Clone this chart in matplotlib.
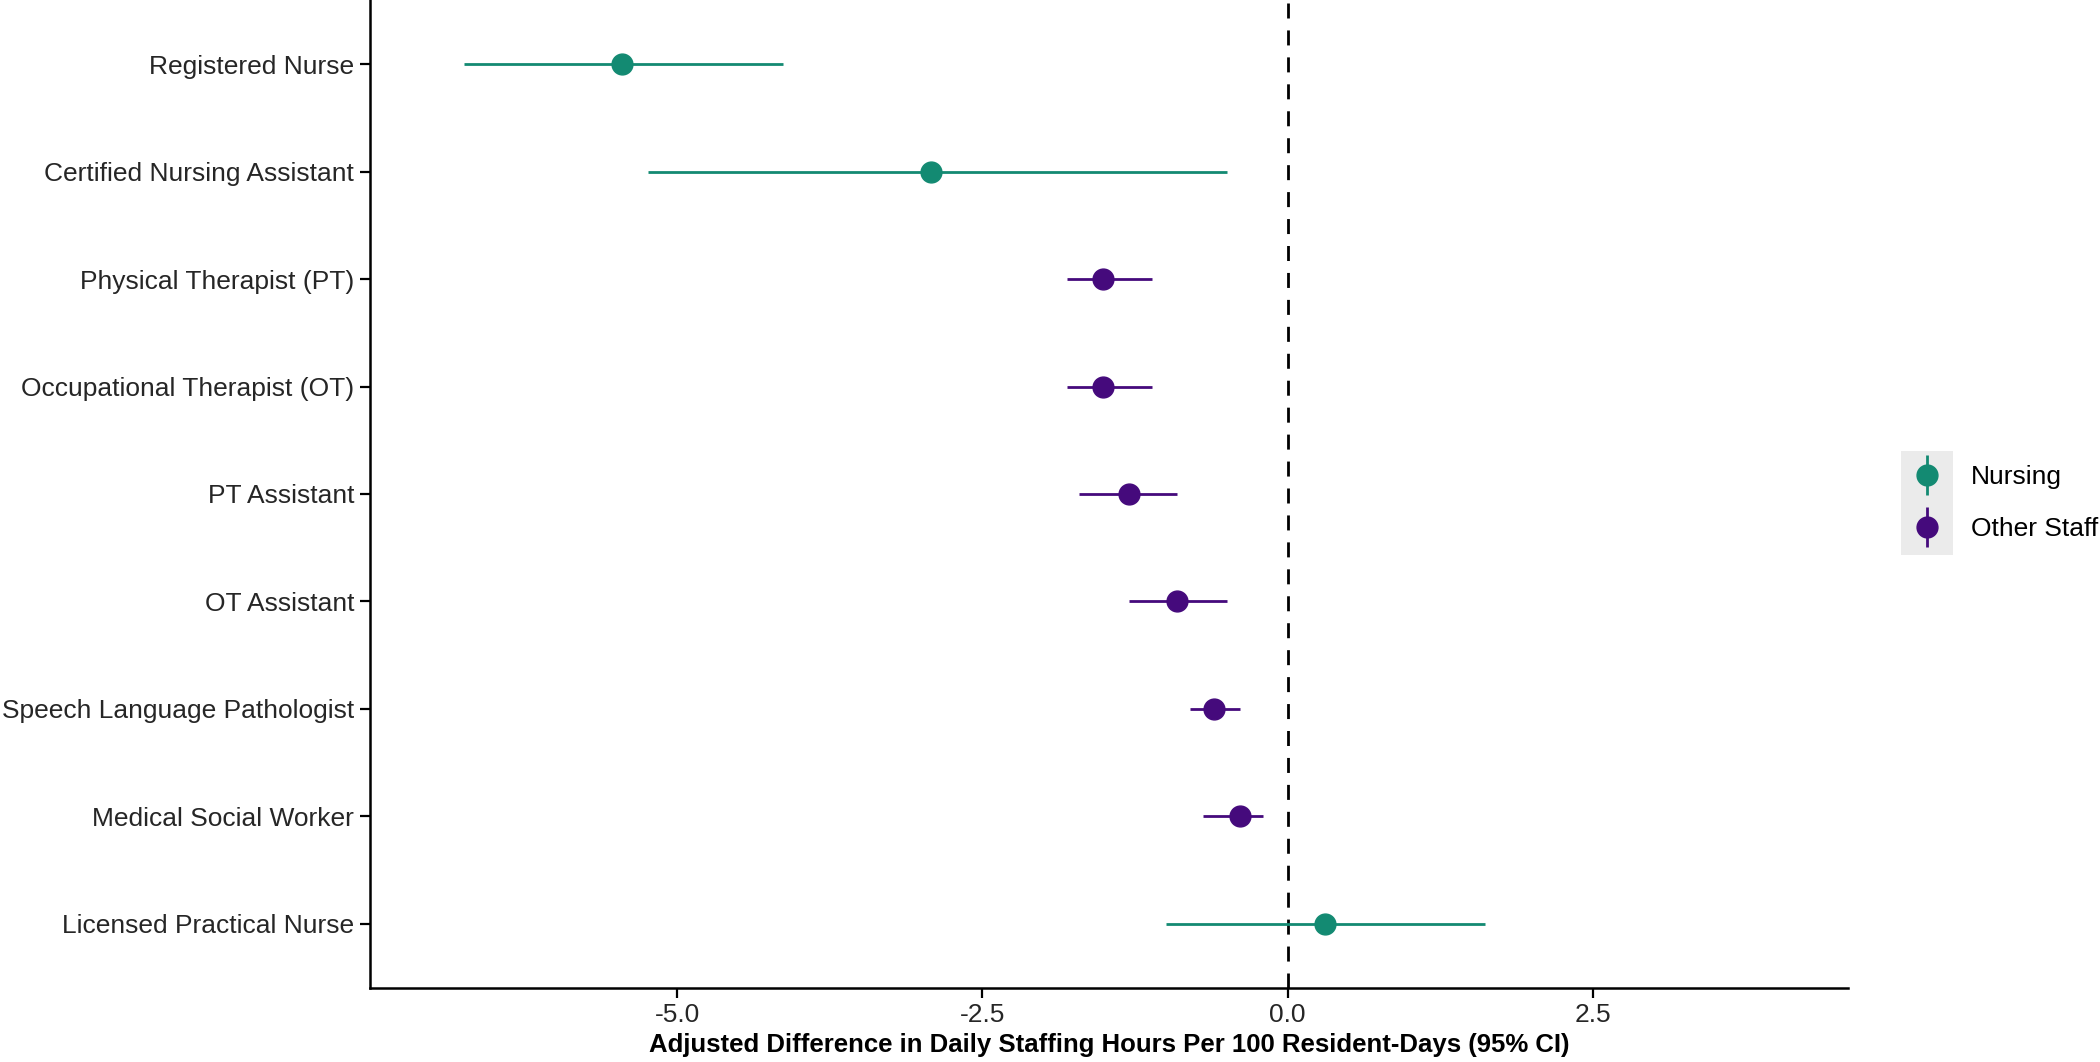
import numpy as np
import matplotlib
matplotlib.use("Agg")
import matplotlib.pyplot as plt
from matplotlib.patches import Rectangle
from matplotlib.container import ErrorbarContainer
from matplotlib.legend_handler import HandlerErrorbar

plt.rcParams['font.family'] = ['Liberation Sans', 'DejaVu Sans']

# rows from top to bottom
roles = ['Registered Nurse', 'Certified Nursing Assistant', 'Physical Therapist (PT)',
         'Occupational Therapist (OT)', 'PT Assistant', 'OT Assistant',
         'Speech Language Pathologist', 'Medical Social Worker', 'Licensed Practical Nurse']
groups = ['Nursing', 'Nursing', 'Other Staff', 'Other Staff', 'Other Staff', 'Other Staff',
          'Other Staff', 'Other Staff', 'Nursing']
estimate = [-5.45, -2.92, -1.51, -1.51, -1.30, -0.91, -0.60, -0.39, 0.31]
ci_low = [-6.75, -5.24, -1.81, -1.81, -1.71, -1.30, -0.80, -0.69, -1.00]
ci_high = [-4.13, -0.50, -1.11, -1.11, -0.91, -0.50, -0.39, -0.20, 1.62]

colors = {'Nursing': '#138a72', 'Other Staff': '#450a7c'}

fig = plt.figure(figsize=(21, 10.62), dpi=100)
ax = fig.add_axes([0.176, 0.0697, 0.704, 0.9303])

n = len(roles)
ypos = np.arange(n, 0, -1)
est = np.array(estimate)
lo = np.array(ci_low)
hi = np.array(ci_high)

ax.axvline(0, color='black', lw=2.0, dashes=(5.4, 4.3), zorder=1)

for g in ['Nursing', 'Other Staff']:
    m = np.array([gg == g for gg in groups])
    ax.errorbar(est[m], ypos[m], xerr=[est[m] - lo[m], hi[m] - est[m]],
                fmt='o', color=colors[g], ms=15, elinewidth=2.0, capsize=0,
                mec=colors[g], zorder=3)

# legend proxies with vertical bars like the ggplot keys
handles = []
for g in ['Nursing', 'Other Staff']:
    h = ax.errorbar([np.nan], [np.nan], yerr=[1.0], fmt='o', color=colors[g],
                    ms=15, elinewidth=2.0, capsize=0)
    handles.append(h)

ax.set_xlim(-7.52, 4.59)
ax.set_ylim(0.4, n + 0.6)
ax.set_xticks([-5.0, -2.5, 0.0, 2.5])
ax.set_xticklabels(['-5.0', '-2.5', '0.0', '2.5'])
ax.set_yticks(ypos)
ax.set_yticklabels(roles)

for s in ['top', 'right']:
    ax.spines[s].set_visible(False)
for s in ['left', 'bottom']:
    ax.spines[s].set_linewidth(1.8)
ax.tick_params(axis='both', length=7, width=1.6, labelsize=19, labelcolor='#262626', pad=4)

ax.set_xlabel('Adjusted Difference in Daily Staffing Hours Per 100 Resident-Days (95% CI)',
              fontsize=18.5, fontweight='bold', labelpad=4)

# grey key background
fig.patches.append(Rectangle((1901 / 2100, 1 - 555 / 1062), 52 / 2100, 104 / 1062,
                             transform=fig.transFigure, facecolor='#ebebeb',
                             edgecolor='none', zorder=0))

fig.legend(handles, ['Nursing', 'Other Staff'], loc='center left',
           bbox_to_anchor=(1901 / 2100, 1 - 503 / 1062), frameon=False,
           fontsize=19, handlelength=1.97, handletextpad=0.68, labelspacing=1.05,
           borderpad=0, borderaxespad=0,
           handler_map={ErrorbarContainer: HandlerErrorbar(xerr_size=0.76)})

fig.savefig('out.png', dpi=100)
